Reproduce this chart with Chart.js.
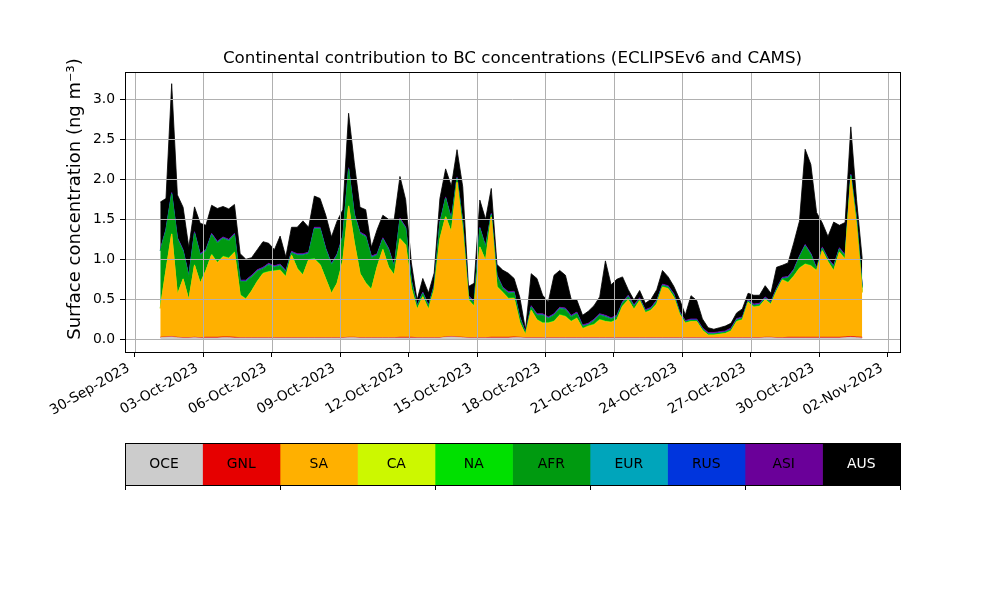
<!DOCTYPE html>
<html>
<head>
<meta charset="utf-8">
<title>Continental contribution to BC concentrations</title>
<script src="https://cdn.jsdelivr.net/npm/chart.js@4.4.1/dist/chart.umd.min.js"></script>
<style>
body{margin:0;background:#fff;}
#wrap{position:relative;width:1000px;height:600px;background:#fff;}
#main{position:absolute;left:0;top:0;}
#cbar{position:absolute;left:0;top:430px;}
</style>
</head>
<body>
<div id="wrap">
<canvas id="main" width="1000" height="420"></canvas>
<canvas id="cbar" width="1000" height="80"></canvas>
</div>
<script>

/* regions, bottom of the stack first */
const regions = ["OCE","GNL","SA","CA","NA","AFR","EUR","RUS","ASI","AUS"];
const regionColors = ["#cccccc","#e60000","#ffb000","#ccf800","#00e000","#009a10","#00a5bb","#0035dd","#6a0099","#000000"];
const labelColors = ["#000","#000","#000","#000","#000","#000","#000","#000","#000","#fff"];

const chartTitle = "Continental contribution to BC concentrations (ECLIPSEv6 and CAMS)";
const yTitle = "Surface concentration (ng m\u207B\u00B3)";

/* 6-hourly samples, first at 01-Oct-2023 03:00 (hours counted from 30-Sep-2023 00:00) */
const firstHour = 27;
const stepHours = 6;

/* x ticks in days after 30-Sep-2023 */
const tickDays = [0,3,6,9,12,15,18,21,24,27,30,33];
const tickLabels = ["30-Sep-2023","03-Oct-2023","06-Oct-2023","09-Oct-2023","12-Oct-2023","15-Oct-2023",
"18-Oct-2023","21-Oct-2023","24-Oct-2023","27-Oct-2023","30-Oct-2023","02-Nov-2023"];
const yTicks = [0,0.5,1,1.5,2,2.5,3];
const cbTicks = [0,2,4,6,8,10];

/* contributions, ng m-3 */
const OCE = [
0.02,0.025,0.03,0.02,0.015,0.015,0.02,0.015,0.015,0.015,
0.015,0.02,0.02,0.015,0.015,0.015,0.015,0.015,0.015,0.015,
0.015,0.015,0.015,0.015,0.015,0.015,0.015,0.015,0.015,0.015,
0.015,0.015,0.015,0.02,0.02,0.015,0.015,0.015,0.015,0.015,
0.015,0.015,0.015,0.015,0.015,0.015,0.015,0.015,0.015,0.015,
0.025,0.03,0.025,0.02,0.015,0.015,0.015,0.015,0.015,0.015,
0.015,0.015,0.02,0.02,0.015,0.015,0.015,0.015,0.015,0.015,
0.015,0.015,0.015,0.015,0.015,0.015,0.015,0.015,0.015,0.015,
0.015,0.015,0.015,0.015,0.015,0.015,0.015,0.015,0.015,0.015,
0.015,0.015,0.015,0.015,0.015,0.015,0.015,0.015,0.015,0.015,
0.015,0.015,0.015,0.015,0.015,0.015,0.02,0.02,0.015,0.015,
0.015,0.015,0.015,0.015,0.015,0.015,0.015,0.015,0.015,0.015,
0.02,0.025,0.02,0.015];

const GNL = [
0.005,0.005,0.005,0.005,0.005,0.005,0.005,0.005,0.01,0.01,
0.01,0.01,0.01,0.01,0.005,0.005,0.005,0.005,0.005,0.005,
0.005,0.005,0.005,0.005,0.005,0.005,0.005,0.005,0.005,0.005,
0.005,0.005,0.005,0.005,0.005,0.005,0.005,0.005,0.005,0.005,
0.005,0.005,0.01,0.01,0.01,0.005,0.005,0.005,0.005,0.005,
0.005,0.005,0.005,0.005,0.005,0.005,0.005,0.005,0.01,0.01,
0.01,0.01,0.01,0.005,0.005,0.005,0.005,0.005,0.005,0.005,
0.005,0.005,0.005,0.005,0.005,0.005,0.005,0.005,0.005,0.005,
0.005,0.005,0.005,0.005,0.005,0.005,0.005,0.005,0.005,0.005,
0.005,0.005,0.005,0.005,0.005,0.005,0.005,0.005,0.005,0.005,
0.005,0.005,0.005,0.005,0.005,0.005,0.005,0.005,0.005,0.005,
0.01,0.01,0.01,0.01,0.01,0.01,0.01,0.01,0.01,0.01,
0.01,0.01,0.01,0.01];

const SA = [
0.36,0.83,1.28,0.53,0.73,0.47,0.90,0.68,0.83,1.03,
0.93,1.00,0.98,1.06,0.53,0.48,0.58,0.70,0.80,0.82,
0.83,0.84,0.76,1.03,0.86,0.78,0.97,0.98,0.91,0.73,
0.55,0.68,0.96,1.64,1.18,0.80,0.68,0.60,0.88,1.10,
0.88,0.78,1.23,1.15,0.61,0.35,0.51,0.35,0.60,1.23,
1.50,1.30,1.93,1.33,0.47,0.39,1.13,0.96,1.50,0.63,
0.56,0.48,0.48,0.18,0.035,0.34,0.22,0.18,0.18,0.20,
0.28,0.26,0.20,0.24,0.11,0.14,0.16,0.22,0.20,0.19,
0.22,0.39,0.47,0.35,0.46,0.31,0.34,0.42,0.63,0.61,
0.50,0.29,0.18,0.20,0.20,0.09,0.03,0.03,0.04,0.05,
0.08,0.20,0.22,0.44,0.38,0.39,0.47,0.41,0.58,0.72,
0.68,0.76,0.86,0.91,0.89,0.83,1.08,0.94,0.83,1.06,
0.97,1.97,1.39,0.56];

const CA = [
0,0,0,0,0,0,0,0,0,0,0,0,0,0,0,0,0,0,0,0,0,0,0,0,0,0,0,0,0,0,0,
0,0,0,0,0,0,0,0,0,0,0,0,0,0,0,0,0,0,0,0,0,0,0,0,0,0,0,0,0,0,0,
0,0,0,0,0,0,0,0,0,0,0,0,0,0,0,0,0,0,0,0,0,0,0,0,0,0,0,0,0,0,0,
0,0,0,0,0,0,0,0,0,0,0,0,0,0,0,0,0,0,0,0,0,0,0,0,0,0,0,0,0,0,0];

const NA = [
0.01,0.01,0.01,0.01,0.01,0.01,0.01,0.01,0.01,0.01,0.01,0.01,0.01,0.01,0.01,0.01,0.01,0.01,0.01,0.01,0.01,0.01,0.01,0.01,0.01,0.01,0.01,0.01,0.01,0.01,0.01,
0.01,0.01,0.01,0.01,0.01,0.01,0.01,0.01,0.01,0.01,0.01,0.01,0.01,0.01,0.01,0.01,0.01,0.01,0.01,0.01,0.01,0.01,0.01,0.01,0.01,0.01,0.01,0.01,0.01,0.01,0.01,
0.01,0.01,0.01,0.01,0.01,0.01,0.01,0.01,0.01,0.01,0.01,0.01,0.01,0.01,0.01,0.01,0.01,0.01,0.01,0.01,0.01,0.01,0.01,0.01,0.01,0.01,0.01,0.01,0.01,0.01,0.01,
0.01,0.01,0.01,0.01,0.01,0.01,0.01,0.01,0.01,0.01,0.01,0.01,0.01,0.01,0.01,0.01,0.01,0.01,0.01,0.01,0.01,0.01,0.01,0.01,0.01,0.01,0.01,0.01,0.01,0.01,0.01];

const AFR = [
0.71,0.49,0.49,0.69,0.34,0.28,0.39,0.34,0.24,0.24,
0.24,0.22,0.21,0.21,0.16,0.21,0.17,0.12,0.05,0.08,
0.04,0.05,0.05,0.02,0.16,0.24,0.07,0.37,0.44,0.36,
0.35,0.34,0.29,0.45,0.34,0.49,0.57,0.39,0.14,0.12,
0.21,0.09,0.23,0.20,0.08,0.03,0.03,0.03,0.03,0.19,
0.22,0.15,0.04,0.09,0.03,0.03,0.22,0.16,0.02,0.12,
0.04,0.06,0.06,0.05,0.01,0.03,0.05,0.09,0.05,0.07,
0.07,0.08,0.05,0.05,0.02,0.01,0.04,0.05,0.05,0.03,
0.03,0.03,0.03,0.03,0.01,0.01,0.01,0.02,0.01,0.01,
0.02,0.01,0.005,0.005,0.005,0.005,0.005,0.005,0.005,0.005,
0.01,0.01,0.01,0.005,0.01,0.01,0.005,0.01,0.01,0.005,
0.05,0.06,0.13,0.22,0.13,0.01,0.02,0.02,0.04,0.03,
0.03,0.03,0.07,0.05];

const EUR = [
0.004,0.004,0.004,0.004,0.004,0.004,0.004,0.004,0.004,0.004,0.004,0.004,0.004,0.004,0.004,0.004,0.004,0.004,0.004,0.004,0.004,0.004,0.004,0.004,0.004,0.004,0.004,0.004,0.004,0.004,0.004,
0.004,0.004,0.004,0.004,0.004,0.004,0.004,0.004,0.004,0.004,0.004,0.004,0.004,0.004,0.004,0.004,0.004,0.004,0.004,0.004,0.004,0.004,0.004,0.004,0.004,0.004,0.004,0.004,0.004,0.004,0.004,
0.004,0.004,0.004,0.004,0.004,0.004,0.004,0.004,0.004,0.004,0.004,0.004,0.004,0.004,0.004,0.004,0.004,0.004,0.004,0.004,0.004,0.004,0.004,0.004,0.004,0.004,0.004,0.004,0.004,0.004,0.004,
0.004,0.004,0.004,0.004,0.004,0.004,0.004,0.004,0.004,0.004,0.004,0.004,0.004,0.004,0.004,0.004,0.004,0.004,0.004,0.004,0.004,0.004,0.004,0.004,0.004,0.004,0.004,0.004,0.004,0.004,0.004];

const RUS = [
0.002,0.002,0.002,0.002,0.002,0.002,0.002,0.002,0.002,0.002,0.002,0.002,0.002,0.002,0.002,0.002,0.002,0.002,0.002,0.002,0.002,0.002,0.002,0.002,0.002,0.002,0.002,0.002,0.002,0.002,0.002,
0.002,0.002,0.002,0.002,0.002,0.002,0.002,0.002,0.002,0.002,0.002,0.002,0.002,0.002,0.002,0.002,0.002,0.002,0.002,0.002,0.002,0.002,0.002,0.002,0.002,0.002,0.002,0.002,0.002,0.002,0.002,
0.002,0.002,0.002,0.002,0.002,0.002,0.002,0.002,0.002,0.002,0.002,0.002,0.002,0.002,0.002,0.002,0.002,0.002,0.002,0.002,0.002,0.002,0.002,0.002,0.002,0.002,0.002,0.002,0.002,0.002,0.002,
0.002,0.002,0.002,0.002,0.002,0.002,0.002,0.002,0.002,0.002,0.002,0.002,0.002,0.002,0.002,0.002,0.002,0.002,0.002,0.002,0.002,0.002,0.002,0.002,0.002,0.002,0.002,0.002,0.002,0.002,0.002];

const ASI = [
0.014,0.014,0.014,0.014,0.014,0.014,0.014,0.014,0.014,0.014,0.014,0.014,0.014,0.014,0.014,0.014,0.014,0.014,0.014,0.014,0.014,0.014,0.014,0.014,0.014,0.014,0.014,0.014,0.014,0.014,0.014,
0.014,0.014,0.014,0.014,0.014,0.014,0.014,0.014,0.014,0.014,0.014,0.014,0.014,0.014,0.014,0.014,0.014,0.014,0.014,0.014,0.014,0.014,0.014,0.014,0.014,0.014,0.014,0.014,0.014,0.014,0.014,
0.014,0.014,0.014,0.014,0.014,0.014,0.014,0.014,0.014,0.014,0.014,0.014,0.014,0.014,0.014,0.014,0.014,0.014,0.014,0.014,0.014,0.014,0.014,0.014,0.014,0.014,0.014,0.014,0.014,0.014,0.014,
0.014,0.014,0.014,0.014,0.014,0.014,0.014,0.014,0.014,0.014,0.014,0.014,0.014,0.014,0.014,0.014,0.014,0.014,0.014,0.014,0.014,0.014,0.014,0.014,0.014,0.014,0.014,0.014,0.014,0.014,0.014];

const AUS = [
0.59,0.38,1.36,0.53,0.53,0.35,0.31,0.38,0.30,0.35,
0.41,0.38,0.38,0.36,0.33,0.26,0.22,0.25,0.32,0.25,
0.20,0.35,0.17,0.30,0.33,0.41,0.31,0.39,0.36,0.41,
0.33,0.41,0.32,0.68,0.63,0.31,0.32,0.11,0.30,0.28,
0.36,0.58,0.52,0.34,0.21,0.06,0.17,0.15,0.15,0.29,
0.35,0.40,0.34,0.43,0.11,0.23,0.34,0.33,0.31,0.13,
0.21,0.23,0.16,0.24,0.025,0.40,0.44,0.23,0.19,0.48,
0.46,0.41,0.20,0.15,0.12,0.15,0.17,0.21,0.68,0.41,
0.45,0.31,0.07,0.06,0.09,0.08,0.10,0.13,0.17,0.11,
0.09,0.15,0.07,0.29,0.23,0.11,0.06,0.04,0.05,0.06,
0.06,0.07,0.10,0.08,0.11,0.10,0.14,0.10,0.26,0.15,
0.17,0.33,0.43,1.19,1.11,0.69,0.30,0.27,0.54,0.28,
0.40,0.59,0.23,0.34];

const series = [OCE,GNL,SA,CA,NA,AFR,EUR,RUS,ASI,AUS];

Chart.defaults.font.family = "'DejaVu Sans', sans-serif";
Chart.defaults.font.size = 13.9;
Chart.defaults.color = "#000";

/* MAIN STACKED CHART */

let datasets = regions.map(function(name,k){
return {
label:name,
data:series[k].map(function(v,i){
return {x:(firstHour + stepHours*i)/24, y:v};
}),
backgroundColor:regionColors[k],
borderColor:regionColors[k],
borderWidth:0.8,
pointRadius:0,
tension:0,
fill:k === 0 ? "origin" : "-1"
};
});

/* grid goes over the areas, like in the original */
const gridOnTop = {
id:"gridOnTop",
afterDatasetsDraw(chart){
let ctx = chart.ctx;
let a = chart.chartArea;
let xs = chart.scales.x;
let ys = chart.scales.y;
ctx.save();
ctx.strokeStyle = "#b0b0b0";
ctx.lineWidth = 1;
ctx.beginPath();
tickDays.forEach(function(d){
let px = Math.round(xs.getPixelForValue(d)) + 0.5;
ctx.moveTo(px,a.top);
ctx.lineTo(px,a.bottom);
});
yTicks.forEach(function(v){
let py = Math.round(ys.getPixelForValue(v)) + 0.5;
ctx.moveTo(a.left,py);
ctx.lineTo(a.right,py);
});
ctx.stroke();
ctx.strokeStyle = "#000";
ctx.strokeRect(Math.round(a.left) + 0.5, Math.round(a.top) + 0.5, Math.round(a.right - a.left), Math.round(a.bottom - a.top));
ctx.restore();
}
};

const titles = {
id:"titles",
afterDraw(chart){
let ctx = chart.ctx;
let a = chart.chartArea;
ctx.save();
ctx.fillStyle = "#000";
ctx.textAlign = "center";
ctx.textBaseline = "middle";
ctx.font = "16.7px 'DejaVu Sans'";
ctx.fillText(chartTitle,(a.left + a.right)/2,59);
ctx.translate(75,199);
ctx.rotate(-Math.PI/2);
ctx.font = "18px 'DejaVu Sans'";
ctx.fillText(yTitle,0,0);
ctx.restore();
}
};

new Chart(document.getElementById("main"),{
type:"line",
data:{datasets:datasets},
options:{
responsive:false,
animation:false,
layout:{padding:{top:72,right:100,left:0,bottom:0}},
plugins:{
legend:{display:false},
tooltip:{enabled:false}
},
scales:{
x:{
type:"linear",
min:-0.42,
max:33.53,
afterBuildTicks:function(s){ s.ticks = tickDays.map(function(v){ return {value:v}; }); },
afterFit:function(s){ s.height = 68; },
ticks:{
autoSkip:false,
minRotation:30,
maxRotation:30,
padding:3,
labelOffset:-6,
callback:function(v,i){ return tickLabels[i]; }
},
grid:{drawOnChartArea:false,tickLength:5,tickColor:"#000",tickWidth:1},
border:{display:false}
},
y:{
type:"linear",
stacked:true,
min:-0.159,
max:3.341,
afterBuildTicks:function(s){ s.ticks = yTicks.map(function(v){ return {value:v}; }); },
afterFit:function(s){ s.width = 125; },
ticks:{
padding:5,
callback:function(v){ return v.toFixed(1); }
},
grid:{drawOnChartArea:false,tickLength:5,tickColor:"#000",tickWidth:1},
border:{display:false}
}
}
},
plugins:[gridOnTop,titles]
});

/* COLOUR BAR LEGEND */

const cellLabels = {
id:"cellLabels",
afterDatasetsDraw(chart){
let ctx = chart.ctx;
let a = chart.chartArea;
ctx.save();
ctx.font = "13.9px 'DejaVu Sans'";
ctx.textAlign = "center";
ctx.textBaseline = "middle";
regions.forEach(function(name,k){
let p = chart.getDatasetMeta(k).data[0].getCenterPoint();
ctx.fillStyle = labelColors[k];
ctx.fillText(name,p.x,p.y);
});
ctx.strokeStyle = "#000";
ctx.lineWidth = 1;
ctx.strokeRect(Math.round(a.left) + 0.5, Math.round(a.top) + 0.5, Math.round(a.right - a.left), Math.round(a.bottom - a.top));
ctx.restore();
}
};

new Chart(document.getElementById("cbar"),{
type:"bar",
data:{
labels:[""],
datasets:regions.map(function(name,k){
return {
label:name,
data:[1],
backgroundColor:regionColors[k],
borderWidth:0,
barPercentage:1,
categoryPercentage:1
};
})
},
options:{
indexAxis:"y",
responsive:false,
animation:false,
layout:{padding:{top:13,right:100,left:125,bottom:0}},
plugins:{
legend:{display:false},
tooltip:{enabled:false}
},
scales:{
x:{
type:"linear",
stacked:true,
min:0,
max:10,
afterBuildTicks:function(s){ s.ticks = cbTicks.map(function(v){ return {value:v}; }); },
afterFit:function(s){ s.height = 25; },
ticks:{callback:function(){ return ""; }},
grid:{drawOnChartArea:false,tickLength:5,tickColor:"#000",tickWidth:1},
border:{display:false}
},
y:{stacked:true,display:false}
}
},
plugins:[cellLabels]
});

</script>
</body>
</html>
